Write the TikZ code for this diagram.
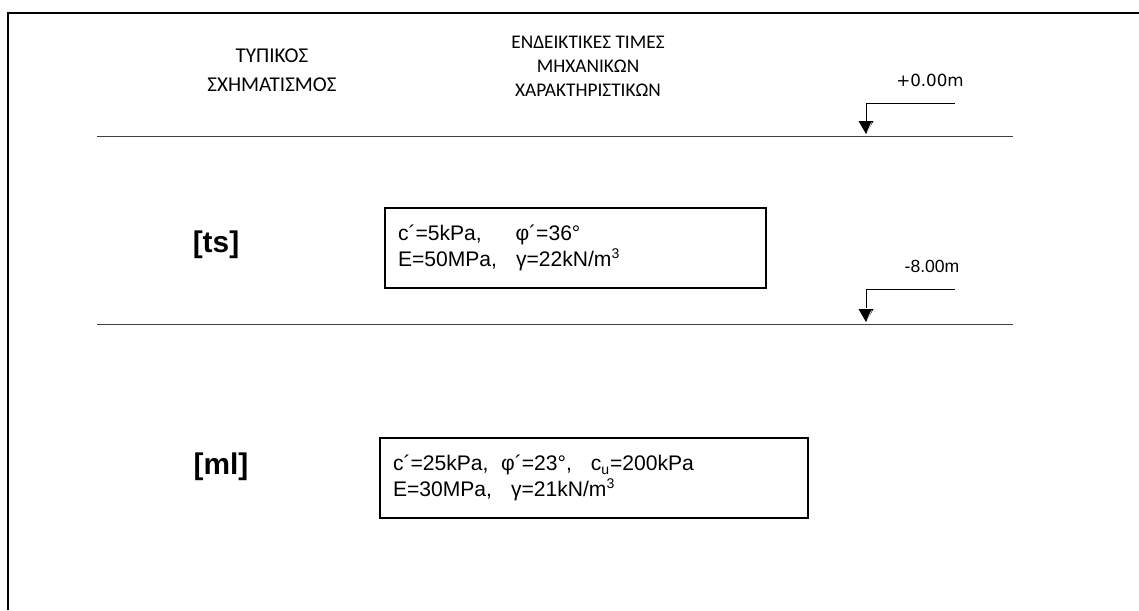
\documentclass[tikz,border=0pt]{standalone}
\usepackage{fontspec}
\setmainfont{Liberation Sans}
\newfontfamily\hdrfont{Carlito}
\newfontfamily\lvlfont{DejaVu Sans}

\begin{document}
\begin{tikzpicture}[x=0.02cm, y=-0.02cm,
    frame/.style={line width=1.1pt},
    ground/.style={line width=0.5pt, black!75},
    leader/.style={line width=0.5pt},
    header/.style={align=center, font=\hdrfont\fontsize{11}{13.6}\selectfont},
    layer/.style={font=\bfseries\fontsize{17}{20}\selectfont},
    propbox/.style={draw, line width=0.9pt, inner xsep=0.26cm, minimum height=1.6cm,
        align=left, font=\fontsize{12}{14.5}\selectfont}]
    \useasboundingbox (0,0) rectangle (1139,610);
    % frame
    \draw [frame] (8,610) -- (8,13) -- (1139,13);
    % headings
    \node [header, font=\hdrfont\fontsize{12}{16.5}\selectfont] (typ) at (272,70) {ΤΥΠΙΚΟΣ\\ΣΧΗΜΑΤΙΣΜΟΣ};
    \node [header] (val) at (588,66) {ΕΝΔΕΙΚΤΙΚΕΣ ΤΙΜΕΣ\\ΜΗΧΑΝΙΚΩΝ\\ΧΑΡΑΚΤΗΡΙΣΤΙΚΩΝ};
    % ground lines
    \coordinate (g0l) at (97,136);
    \coordinate (g0r) at (1013,136);
    \draw [ground] (g0l) -- (g0r);
    \coordinate (g1l) at (97,324);
    \coordinate (g1r) at (1013,324);
    \draw [ground] (g1l) -- (g1r);
    % level +0.00
    \coordinate (lv0) at (866,103);
    \coordinate (lv0e) at (955,103);
    \coordinate (lv0t) at (866,134);
    \node [font=\lvlfont\fontsize{9.5}{11}\selectfont] (lv0txt) at (930,80) {+0.00m};
    \draw [leader] (lv0e) -- (lv0) -- ++(0,19);
    \fill (lv0t) -- ++(-7.5,-13) -- ++(15,0) -- cycle;
    \draw [white, line width=0.4pt] (lv0t) ++(1.5,-2.5) -- ++(4,-9);
    % level -8.00
    \coordinate (lv1) at (866,289);
    \coordinate (lv1e) at (955,289);
    \coordinate (lv1t) at (866,322);
    \node [font=\fontsize{10}{12}\selectfont] (lv1txt) at (932,266) {-8.00m};
    \draw [leader] (lv1e) -- (lv1) -- ++(0,19);
    \fill (lv1t) -- ++(-7.5,-13) -- ++(15,0) -- cycle;
    \draw [white, line width=0.4pt] (lv1t) ++(1.5,-2.5) -- ++(4,-9);
    % layer ts
    \node [layer] (ts) at (216,245) {[ts]};
    \node [propbox, text width=7.10cm] (tsbox) at (575.5,248)
        {c´=5kPa,\hspace{1.6em}φ´=36°\\E=50MPa,\hspace{0.9em}γ=22kN/m\textsuperscript{3}};
    % layer ml
    \node [layer] (ml) at (221,467) {[ml]};
    \node [propbox, text width=8.04cm] (mlbox) at (594,478)
        {c´=25kPa,\hspace{0.6em}φ´=23°,\hspace{0.9em}c\textsubscript{u}=200kPa\\E=30MPa,\hspace{0.9em}γ=21kN/m\textsuperscript{3}};
\end{tikzpicture}
\end{document}
